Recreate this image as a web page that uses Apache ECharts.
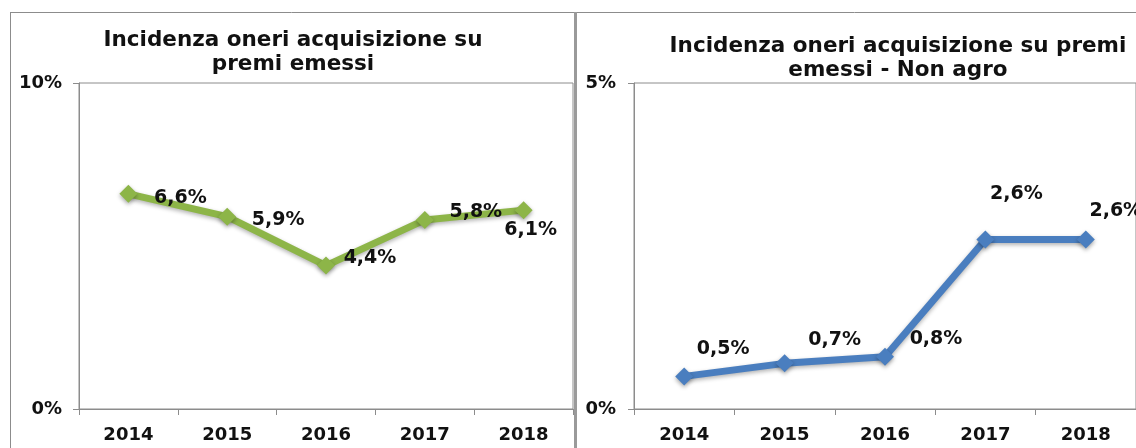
<!DOCTYPE html>
<html>
<head>
<meta charset="utf-8">
<script src="https://cdn.jsdelivr.net/npm/echarts@6/dist/echarts.min.js"></script>
<style>
  html, body { margin: 0; padding: 0; background: #fff; }
  #chart { width: 1136px; height: 448px; }
</style>
</head>
<body>
<div id="chart"></div>
<script>
const years = ['2014', '2015', '2016', '2017', '2018']
const incidenzaTot = [6.6, 5.9, 4.4, 5.8, 6.1]
const incidenzaNonAgro = [0.5, 0.7, 0.8, 2.6, 2.6]
const ticksTot = [0, 10]
const ticksNonAgro = [0, 5]

// spostamento etichette rispetto al punto (come nel grafico originale)
const offsetsTot = [[52, 4], [51, 3], [44, -7], [51, -8], [7, 20]]
const offsetsNonAgro = [[39, -27], [50, -23], [51, -18], [31, -45], [30, -28]]

const font = 'DejaVu Sans'
const grey = '#8c8c8c'

function fmt(v) {
  return v.toFixed(1).replace('.', ',') + '%'
}

function buildData(values, offsets) {
  return values.map((v, i) => ({
    value: v,
    label: { offset: offsets[i] }
  }))
}

function xAxis(gridIndex) {
  return {
    type: 'category', gridIndex: gridIndex, data: years,
    axisLine: { lineStyle: { color: grey, width: 1 } },
    axisTick: { show: true, length: 6, lineStyle: { color: grey } },
    axisLabel: { color: '#111', fontFamily: font, fontWeight: 'bold', fontSize: 18, margin: 17 }
  }
}

function yAxis(gridIndex, ticks, margin) {
  return {
    type: 'value', gridIndex: gridIndex,
    min: ticks[0], max: ticks[1], interval: ticks[1] - ticks[0],
    axisLine: { show: true, lineStyle: { color: grey, width: 1 } },
    axisTick: { show: true, length: 6, lineStyle: { color: grey } },
    splitLine: { show: false },
    axisLabel: { color: '#111', fontFamily: font, fontWeight: 'bold', fontSize: 18, margin: margin, formatter: '{value}%' }
  }
}

function series(index, values, offsets, color) {
  return {
    type: 'line', xAxisIndex: index, yAxisIndex: index,
    data: buildData(values, offsets),
    symbol: 'diamond', symbolSize: 18,
    lineStyle: { color: color, width: 7, shadowBlur: 4, shadowColor: 'rgba(0,0,0,0.3)', shadowOffsetY: 2 },
    itemStyle: { color: color, shadowBlur: 4, shadowColor: 'rgba(0,0,0,0.35)', shadowOffsetY: 2 },
    label: {
      show: true, position: 'inside', color: '#111',
      fontFamily: font, fontWeight: 'bold', fontSize: 19,
      formatter: p => fmt(p.value)
    },
    animation: false
  }
}

const titleStyle = { fontFamily: font, fontWeight: 'bold', fontSize: 21.5, lineHeight: 24, color: '#111' }

const option = {
  backgroundColor: '#fff',
  title: [
    {
      text: 'Incidenza oneri acquisizione su\npremi emessi',
      left: 293, top: 28, padding: 0, textAlign: 'center',
      textStyle: titleStyle
    },
    {
      text: 'Incidenza oneri acquisizione su premi\nemessi - Non agro',
      left: 898, top: 34, padding: 0, textAlign: 'center',
      textStyle: titleStyle
    }
  ],
  grid: [
    { left: 79, top: 83, width: 494, height: 326, show: true, borderColor: grey, borderWidth: 1 },
    { left: 634, top: 83, width: 508, height: 326, show: true, borderColor: grey, borderWidth: 1 }
  ],
  xAxis: [xAxis(0), xAxis(1)],
  yAxis: [yAxis(0, ticksTot, 17), yAxis(1, ticksNonAgro, 18)],
  series: [
    series(0, incidenzaTot, offsetsTot, '#8db548'),
    series(1, incidenzaNonAgro, offsetsNonAgro, '#4a7ebf')
  ],
  graphic: [
    { type: 'line', shape: { x1: 10, y1: 12.5, x2: 1136, y2: 12.5 }, style: { stroke: grey, lineWidth: 1 } },
    { type: 'line', shape: { x1: 10.5, y1: 12, x2: 10.5, y2: 448 }, style: { stroke: grey, lineWidth: 1 } },
    { type: 'rect', shape: { x: 574, y: 12, width: 3, height: 436 }, style: { fill: '#9a9a9a' } }
  ]
}

const chart = echarts.init(document.getElementById('chart'))
chart.setOption(option)
window.addEventListener('resize', function () {
  chart.resize()
})
</script>
</body>
</html>
